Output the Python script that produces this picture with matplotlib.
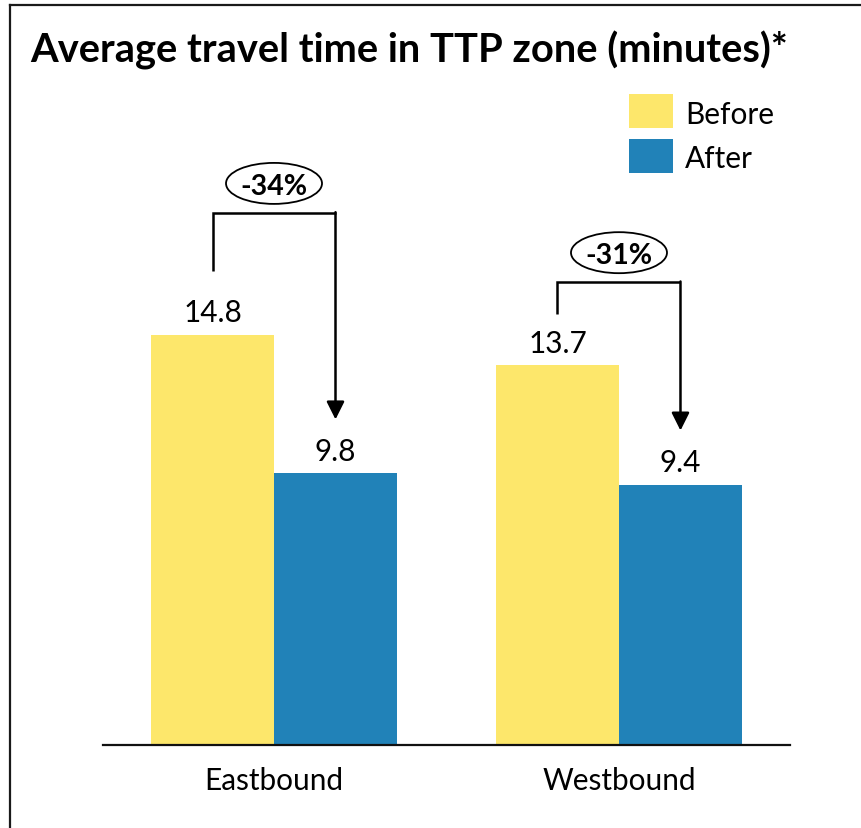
import matplotlib
matplotlib.use("Agg")
import matplotlib.pyplot as plt
from matplotlib.patches import Ellipse, Rectangle
from matplotlib.lines import Line2D

# ---- data -------------------------------------------------------------
categories = ["Eastbound", "Westbound"]
series_names = ["Before", "After"]
before = [14.8, 13.7]
after = [9.8, 9.4]
title = "Average travel time in TTP zone (minutes)*"

# callout rails (minutes on the value axis)
bracket_start = [17.1, 15.55]
bracket_top = [19.2, 16.7]

# ---- style ------------------------------------------------------------
YELLOW = "#FDE76B"
BLUE = "#2182B8"
series_colors = [YELLOW, BLUE]
FONT = ["Lato", "DejaVu Sans"]
plt.rcParams["font.family"] = FONT

W, H, DPI = 861, 829, 100
fig = plt.figure(figsize=(W / DPI, H / DPI), dpi=DPI)
fig.canvas.draw()
renderer = fig.canvas.get_renderer()


def fx(px):
    return px / W


def fy(py):
    return 1 - py / H


def fit_size(s, target_px, weight="normal"):
    t = fig.text(0, 0, s, fontsize=10, fontweight=weight)
    w = t.get_window_extent(renderer).width
    t.remove()
    return 10 * target_px / w


body_size = fit_size("Eastbound", 139)
title_size = fit_size(title, 760, "bold")
pct_size = fit_size("-34%", 67, "bold")

# plot area
ax = fig.add_axes([fx(103), fy(746), fx(790) - fx(103), (746 - 106) / H])
bar_w = 0.3565
xs = list(range(len(categories)))
ax.bar([x - bar_w / 2 for x in xs], before, width=bar_w, color=YELLOW,
       label=series_names[0], zorder=2)
ax.bar([x + bar_w / 2 for x in xs], after, width=bar_w, color=BLUE,
       label=series_names[1], zorder=2)
ax.set_xlim(-0.4957, 1.4957)
ax.set_ylim(0, 23.1)

for s in ("top", "left", "right"):
    ax.spines[s].set_visible(False)
ax.spines["bottom"].set_linewidth(1.6)
ax.spines["bottom"].set_color("#111111")
ax.set_yticks([])
ax.set_xticks(xs)
ax.set_xticklabels(categories, fontsize=body_size)
ax.tick_params(axis="x", length=0, pad=15)

# value labels
for i in xs:
    ax.text(i - bar_w / 2, before[i] + 0.5, f"{before[i]:.1f}", ha="center",
            va="baseline", fontsize=body_size)
    ax.text(i + bar_w / 2, after[i] + 0.5, f"{after[i]:.1f}", ha="center",
            va="baseline", fontsize=body_size)

# change callouts
for i in xs:
    xl, xr = i - bar_w / 2, i + bar_w / 2
    top = bracket_top[i]
    tip = after[i] + 1.95
    ax.plot([xl, xl, xr], [bracket_start[i], top, top], color="black",
            lw=1.8, solid_capstyle="butt", solid_joinstyle="miter", zorder=3)
    ax.annotate("", xy=(xr, tip), xytext=(xr, top + 0.03),
                arrowprops=dict(arrowstyle="-|>,head_length=0.6,head_width=0.3",
                                mutation_scale=18, lw=1.8, color="black",
                                shrinkA=0, shrinkB=0),
                zorder=3)
    change = round((after[i] - before[i]) / before[i] * 100)
    cy = top + 1.07
    ax.add_patch(Ellipse((i, cy), width=96 / 345, height=41 / 27.7,
                         facecolor="white", edgecolor="black", lw=1.3,
                         zorder=4))
    ax.text(i, cy, f"{change}%", ha="center", va="center_baseline",
            fontsize=pct_size, fontweight="bold", zorder=5)

# legend (swatch + label rows, top right)
for k, (name, col) in enumerate(zip(series_names, series_colors)):
    top_px = 95 + 45 * k
    fig.add_artist(Rectangle((fx(629), fy(top_px + 34)), 44 / W, 34 / H,
                             facecolor=col, edgecolor="none",
                             transform=fig.transFigure))
    fig.text(fx(685), fy(top_px + 17), name, fontsize=body_size,
             va="center_baseline", ha="left")

# title
fig.text(fx(30), fy(63), title, fontsize=title_size, fontweight="bold",
         va="baseline", ha="left")

# outer frame (left and top edges)
fig.add_artist(Line2D([fx(10), fx(10)], [fy(6), -0.05], color="#1a1a1a",
                      lw=1.6, transform=fig.transFigure))
fig.add_artist(Line2D([fx(10), 1.05], [fy(6), fy(6)], color="#1a1a1a",
                      lw=1.6, transform=fig.transFigure))

fig.savefig("out.png", dpi=DPI)
